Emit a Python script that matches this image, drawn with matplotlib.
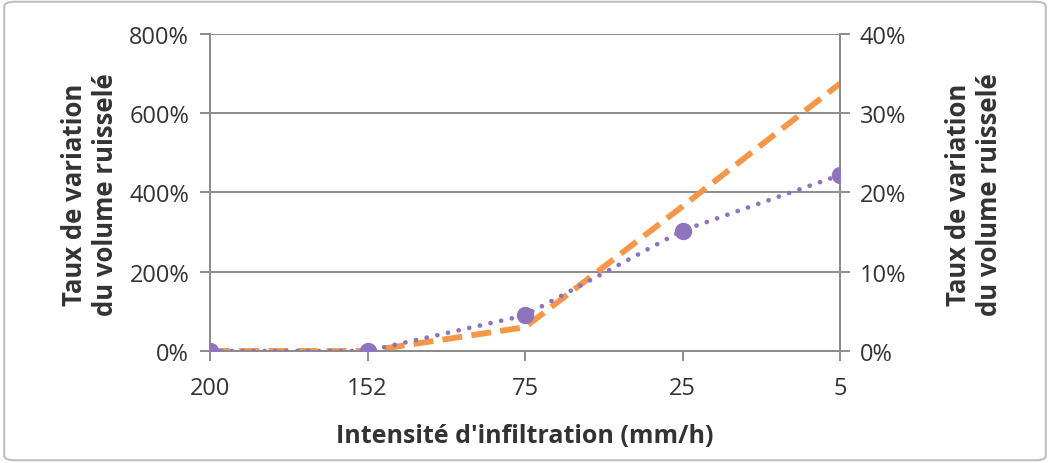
import matplotlib
matplotlib.use("Agg")
import matplotlib.pyplot as plt
from matplotlib.patches import FancyBboxPatch
from matplotlib.ticker import FuncFormatter, MultipleLocator

categories = ["200", "152", "75", "25", "5"]
orange_left_pct = [0, 0, 60, 365, 675]        # primary axis (%)
purple_right_pct = [0.0, 0.0, 4.5, 15.2, 22.2]  # secondary axis (%)

x_label = "Intensité d'infiltration (mm/h)"
y_label = "Taux de variation\ndu volume ruisselé"

plt.rcParams['font.family'] = ['Open Sans', 'DejaVu Sans']

fig = plt.figure(figsize=(10.5, 4.64), dpi=100)
ax = fig.add_axes([0.2, 0.2414, 0.6, 0.6832])
ax2 = ax.twinx()

xs = list(range(len(categories)))
grid_c = "#8c8c8c"
text_c = "#333333"

ax.plot(xs, orange_left_pct, color="#F79646", lw=4.2, dashes=(3.4, 1.6),
        solid_capstyle="butt", dash_capstyle="butt", zorder=3, clip_on=True)
ax2.plot(xs, purple_right_pct, color="#8E74BE", lw=3.4, linestyle=(0, (0.01, 2.3)),
         dash_capstyle="round", marker="o", markersize=11.5, zorder=4, clip_on=True)

ax.set_xlim(0, len(categories) - 1)
ax.set_ylim(0, 800)
ax2.set_ylim(0, 40)
ax.yaxis.set_major_locator(MultipleLocator(200))
ax2.yaxis.set_major_locator(MultipleLocator(10))
ax.yaxis.set_major_formatter(FuncFormatter(lambda v, p: f"{v:.0f}%"))
ax2.yaxis.set_major_formatter(FuncFormatter(lambda v, p: f"{v:.0f}%"))
ax.set_xticks(xs)
ax.set_xticklabels(categories)

ax.grid(axis="y", color=grid_c, lw=1.4)
ax.set_axisbelow(True)
for a in (ax, ax2):
    a.spines["top"].set_visible(False)
    for s in ("left", "right", "bottom"):
        a.spines[s].set_color(grid_c)
        a.spines[s].set_linewidth(1.4)
    a.tick_params(axis="both", colors=grid_c, labelcolor=text_c, labelsize=17,
                  length=7, width=1.4)
ax.tick_params(axis="x", pad=11)
ax.tick_params(axis="y", pad=8)
ax2.tick_params(axis="y", pad=7)

fig.text(0.5, 1 - 437 / 464, x_label, fontsize=18, fontweight="bold", color=text_c,
         ha="center", va="center")
fig.text(90 / 1050, 1 - 195 / 464, y_label, fontsize=18.5, fontweight="bold", color=text_c,
         ha="center", va="center", rotation=90, linespacing=1.2, multialignment="center")
fig.text(974 / 1050, 1 - 195 / 464, y_label, fontsize=18.5, fontweight="bold", color=text_c,
         ha="center", va="center", rotation=90, linespacing=1.2, multialignment="center")

border = FancyBboxPatch((0.004, 0.006), 0.992, 0.988, boxstyle="round,pad=0,rounding_size=0.01",
                        transform=fig.transFigure, fill=False, edgecolor="#bfbfbf", lw=1.5)
fig.patches.append(border)

fig.savefig("out.png", dpi=100, facecolor="white")
